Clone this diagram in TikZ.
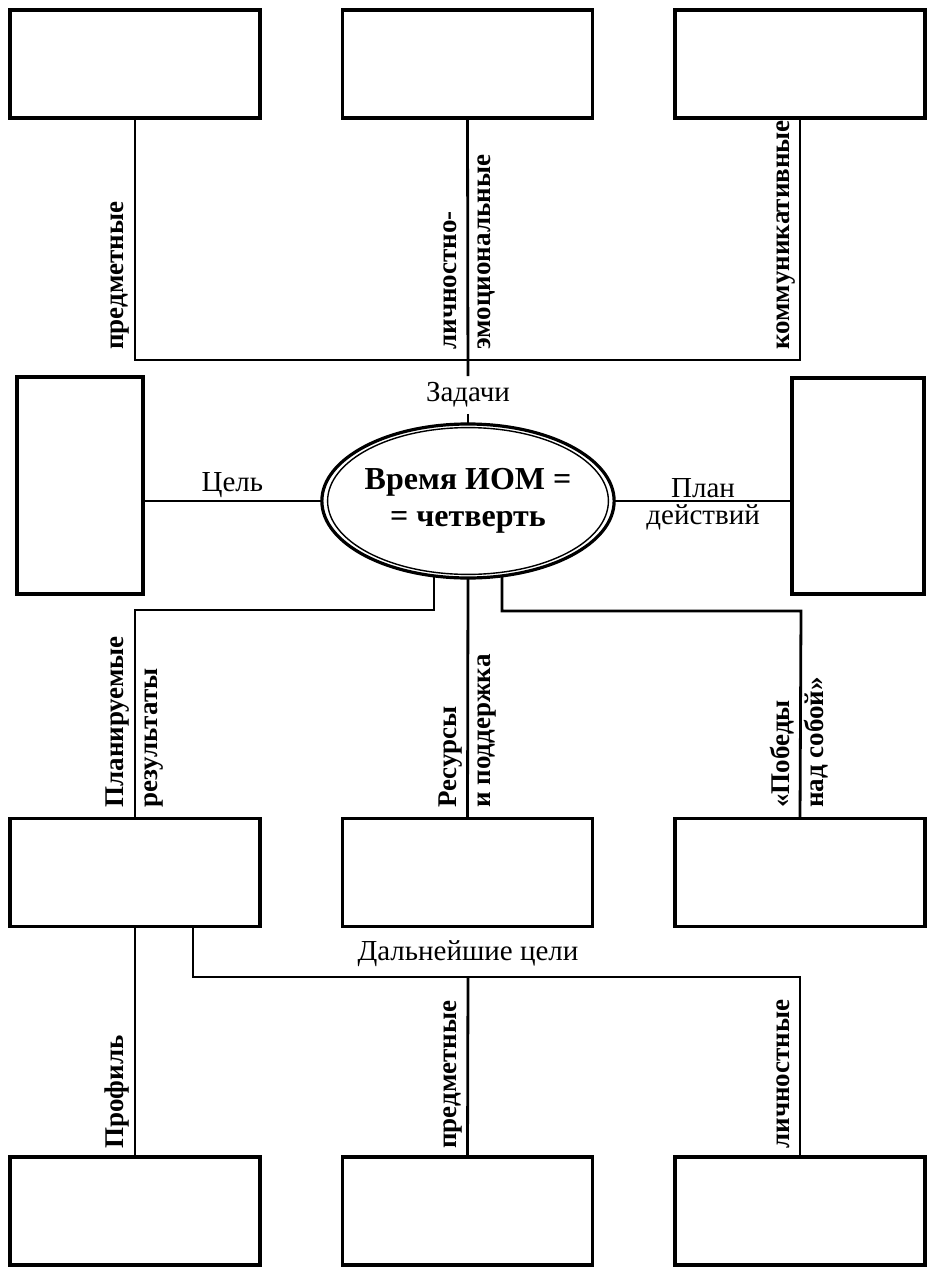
\documentclass[tikz,border=0pt]{standalone}
\usepackage{fontspec}
\setmainfont{Liberation Serif}
\usetikzlibrary{positioning,calc,shapes.geometric}

\begin{document}
\begin{tikzpicture}[x=0.5pt,y=-0.5pt,
    box/.style={draw,line width=1.7pt,inner sep=0pt,outer sep=0pt},
    wbox/.style={box,minimum width=125pt,minimum height=54pt},
    conn/.style={line width=1.4pt},
    lbl/.style={font=\fontsize{14.5}{17}\selectfont,inner sep=1pt},
    vlab/.style={font=\bfseries\fontsize{13.5}{16}\selectfont,rotate=90,anchor=base west,inner sep=0pt}]
    \useasboundingbox (0,0) rectangle (926,1267);

    % boxes
    \node[wbox] (t1) at (135,64) {};
    \node[wbox] (t2) at (467.5,64) {};
    \node[wbox] (t3) at (800,64) {};
    \node[box,minimum width=63pt,minimum height=108.5pt] (m1) at (80,485.5) {};
    \node[box,minimum width=66pt,minimum height=108pt] (m2) at (858,486) {};
    \node[wbox] (r1) at (135,872.5) {};
    \node[wbox] (r2) at (467.5,872.5) {};
    \node[wbox] (r3) at (800,872.5) {};
    \node[wbox] (u1) at (135,1211) {};
    \node[wbox] (u2) at (467.5,1211) {};
    \node[wbox] (u3) at (800,1211) {};

    % centre
    \node[draw,ellipse,line width=1.6pt,minimum width=144pt,minimum height=77pt,inner sep=0pt,outer sep=0pt,
        align=center,font=\bfseries\fontsize{16}{18.5}\selectfont] (ell) at (468,501) {Время ИОМ =\\= четверть};
    \draw[line width=0.7pt] (ell.center) ellipse [x radius=70.2pt, y radius=36.7pt];

    % top
    \coordinate (bar) at (468,360);
    \node[lbl,fill=white,inner sep=3pt] (zad) at (468,395) {Задачи};
    \draw[conn] (t1.south) |- (bar) -| (t3.south);
    \draw[conn] (t2.south) -- (zad);
    \draw[conn] (zad) -- (ell);

    % sides
    \draw[conn] (ell.west) -- (ell.west -| m1.east) node[lbl,midway,above] (cel) {Цель};
    \draw[conn] (ell.east) -- (ell.east -| m2.west) node[lbl,midway,above] (plan) {План}
        node[lbl,midway,below] (dej) {действий};

    % below the centre
    \coordinate (jl) at (135,610);
    \coordinate (jr) at (801,611);
    \draw[conn] ($(ell.south)+(-34,-3)$) |- (jl) -- (r1.north);
    \draw[conn] (ell.south) -- (r2.north);
    \draw[conn] ($(ell.south)+(34,-3)$) |- (jr) -- (r3.north);

    % bottom
    \coordinate (fork) at (468,977);
    \node[lbl,above=4pt] (dal) at (fork) {Дальнейшие цели};
    \draw[conn] (r1.south) -- (u1.north);
    \draw[conn] ($(r1.south)+(58,0)$) |- (fork) -| (u3.north);
    \draw[conn] (fork) -- (u2.north);

    % labels along the lines
    \foreach \n/\x/\y/\t in {a1/123/350/предметные, a2/456/350/личностно-, a3/490/350/эмоциональные,
        a4/789/350/коммуникативные, b1/123/808/Планируемые, b2/157/808/результаты,
        b3/456/808/Ресурсы, b4/490/808/и поддержка, b5/789/808/«Победы, b6/823/808/над собой»,
        c1/123/1149/Профиль, c2/456/1149/предметные, c3/789/1149/личностные}{
        \node[vlab] (\n) at (\x,\y) {\t};
    }

\end{tikzpicture}
\end{document}
